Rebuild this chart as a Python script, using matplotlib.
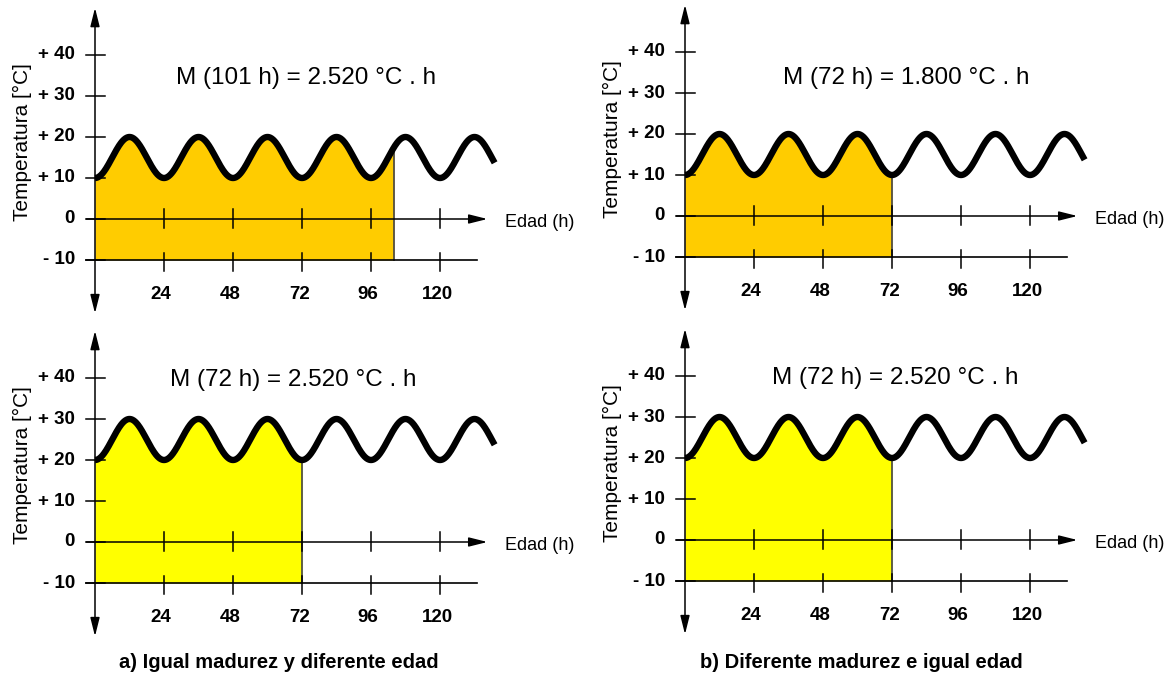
import numpy as np
import matplotlib
matplotlib.use("Agg")
import matplotlib.pyplot as plt

plt.rcParams['font.family'] = ['Liberation Sans', 'DejaVu Sans']

# ---- data ----
titles = ["M (101 h) = 2.520 °C . h", "M (72 h) = 1.800 °C . h",
          "M (72 h) = 2.520 °C . h", "M (72 h) = 2.520 °C . h"]
t_min = [10, 10, 20, 20]          # daily minimum temperature (°C)
t_max = [20, 20, 30, 30]          # daily maximum temperature (°C)
fill_end = [104, 72, 72, 72]      # age (h) up to which maturity is shaded
fill_colors = ["#FFCC00", "#FFCC00", "#FFFF00", "#FFFF00"]
period_h = 24
curve_end_h = 139
datum = -10
x_ticks = [24, 48, 72, 96, 120]
y_ticks = [-10, 0, 10, 20, 30, 40]
y_tick_labels = ["- 10", "0", "+ 10", "+ 20", "+ 30", "+ 40"]
captions = ["a) Igual madurez y diferente edad", "b) Diferente madurez e igual edad"]

# ---- layout (pixel origin of each panel: x of age 0, y of 0 °C) ----
W, H = 1174, 680
origins = [(95, 219), (685, 216), (95, 542), (685, 540)]
title_pos = [(73.5, 34.4), (76.9, 33.7), (69, 39.5), (73, 39.5)]
pxh = 2.875   # px per hour
pxd = 4.1     # px per degree
xr = (-35, 165)
yr = (-27, 53)

fig = plt.figure(figsize=(W / 100, H / 100), dpi=100)

arrow_kw = dict(lw=1.1, color='black', mutation_scale=14, shrinkA=0, shrinkB=0)

for i in range(4):
    x0, y0 = origins[i]
    left = x0 + xr[0] * pxh
    bottom = y0 - yr[0] * pxd
    ax = fig.add_axes([left / W, 1 - bottom / H, (xr[1] - xr[0]) * pxh / W,
                       (yr[1] - yr[0]) * pxd / H])
    ax.set_xlim(*xr)
    ax.set_ylim(*yr)
    ax.axis('off')

    mean = (t_min[i] + t_max[i]) / 2
    amp = (t_max[i] - t_min[i]) / 2
    t = np.linspace(0, curve_end_h, 800)
    temp = mean - amp * np.cos(2 * np.pi * t / period_h)

    tf = np.linspace(0, fill_end[i], 600)
    tempf = mean - amp * np.cos(2 * np.pi * tf / period_h)
    ax.fill_between(tf, datum, tempf, color=fill_colors[i], lw=0, zorder=1)
    ax.plot([fill_end[i], fill_end[i]], [datum, tempf[-1]], color='#444444',
            lw=1.2, zorder=2)

    # axes lines
    ax.plot([-3, 133], [datum, datum], color='black', lw=1.2, zorder=3)
    ax.annotate('', xy=(136.5, 0), xytext=(-3, 0),
                arrowprops=dict(arrowstyle='-|>,head_length=0.8,head_width=0.2',
                                **arrow_kw), zorder=3)
    ax.annotate('', xy=(0, 51.5), xytext=(0, -23),
                arrowprops=dict(arrowstyle='<|-|>,head_length=0.8,head_width=0.2',
                                **arrow_kw), zorder=3)
    for yv in y_ticks:
        ax.plot([-3.1, 3.5], [yv, yv], color='black', lw=1.1, zorder=3)
    for xv in x_ticks:
        ax.plot([xv, xv], [-2.3, 2.4], color='black', lw=1.1, zorder=3)
        ax.plot([xv, xv], [datum - 2.7, datum + 1.7], color='black', lw=1.1, zorder=3)
        ax.text(xv - 1, -18.5, str(xv), ha='center', va='center', fontsize=13.5,
                fontweight='bold')
    for yv, lab in zip(y_ticks, y_tick_labels):
        ax.text(-7, yv, lab, ha='right', va='center', fontsize=13.5,
                fontweight='bold')

    ax.plot(t, temp, color='black', lw=4.6, zorder=4, solid_capstyle='butt')

    ax.text(142.6, -0.8, "Edad (h)", ha='left', va='center', fontsize=13)
    ax.text(-25.4, 18.8, "Temperatura [°C]", rotation=90, ha='center',
            va='center', fontsize=15)
    ax.text(title_pos[i][0], title_pos[i][1], titles[i], ha='center',
            va='center', fontsize=17.5)

fig.text(279 / W, 1 - 662 / H, captions[0], ha='center', va='center',
         fontsize=14.5, fontweight='bold')
fig.text(861 / W, 1 - 662 / H, captions[1], ha='center', va='center',
         fontsize=14.5, fontweight='bold')

fig.savefig("out.png", dpi=100)
